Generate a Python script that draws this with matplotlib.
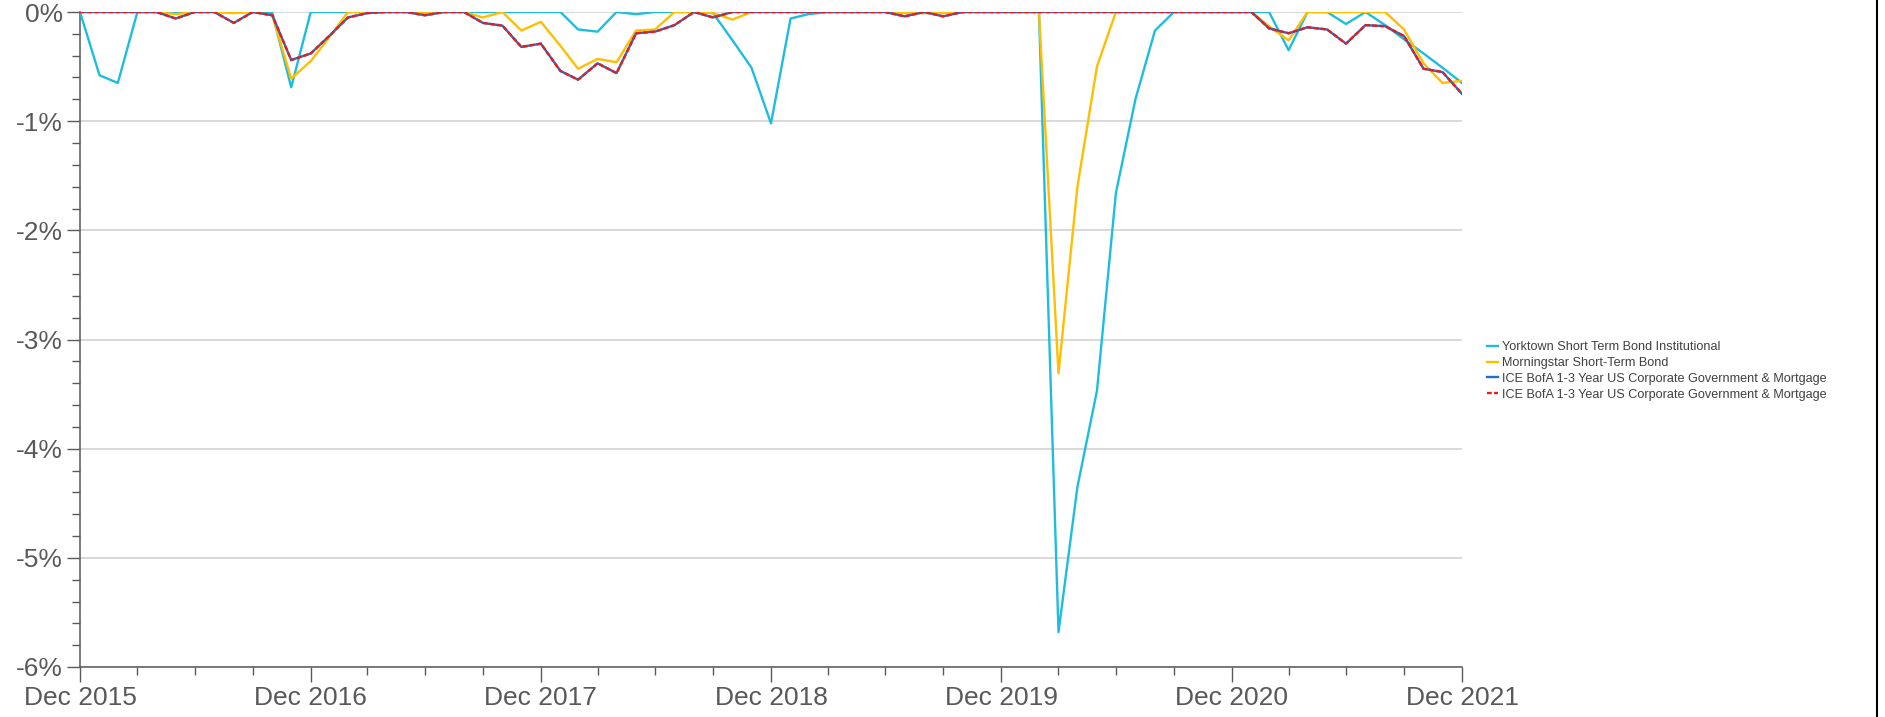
import matplotlib
matplotlib.use("Agg")
import matplotlib.pyplot as plt
import matplotlib.lines as mlines
import pandas as pd
import numpy as np

plt.rcParams['font.family'] = ['Liberation Sans', 'DejaVu Sans']

dates = pd.date_range('2015-12-31', periods=73, freq='ME')

yorktown = [0, -0.58, -0.65, 0, 0, 0, 0, 0, 0, 0, -0.01, -0.69, 0,
            0, 0, 0, 0, 0, 0, 0, 0, 0, 0, 0, 0,
            0, -0.16, -0.18, 0, -0.02, 0, 0, 0, -0.01, -0.26, -0.51, -1.02,
            -0.06, -0.02, 0, 0, 0, 0, 0, 0, 0, 0, 0, 0,
            0, 0, -5.68, -4.35, -3.47, -1.66, -0.80, -0.17, 0, 0, 0, 0,
            0, 0, -0.35, 0, 0, -0.11, 0, -0.12, -0.25, -0.38, -0.51, -0.65]

morningstar = [0, 0, 0, 0, 0, -0.02, 0, 0, -0.01, 0, -0.03, -0.61, -0.45,
               -0.22, 0, 0, 0, 0, -0.01, 0, 0, -0.05, 0, -0.17, -0.09,
               -0.31, -0.52, -0.43, -0.46, -0.17, -0.16, 0, 0, -0.01, -0.07, 0, 0,
               0, 0, 0, 0, 0, 0, -0.01, -0.01, -0.01, 0, 0, 0,
               0, 0, -3.31, -1.60, -0.50, 0, 0, 0, 0, 0, 0, 0,
               0, -0.13, -0.26, 0, 0, 0, 0, 0, -0.16, -0.47, -0.65, -0.63]

ice = [0, 0, 0, 0, 0, -0.06, 0, 0, -0.10, 0, -0.03, -0.44, -0.38,
       -0.21, -0.05, -0.01, 0, 0, -0.03, 0, 0, -0.10, -0.125, -0.32, -0.29,
       -0.54, -0.62, -0.47, -0.56, -0.195, -0.18, -0.12, 0, -0.05, 0, 0, 0,
       0, 0, 0, 0, 0, 0, -0.04, 0, -0.04, 0, 0, 0,
       0, 0, 0, 0, 0, 0, 0, 0, 0, 0, 0, 0,
       0, -0.15, -0.195, -0.14, -0.16, -0.29, -0.12, -0.13, -0.22, -0.52, -0.55, -0.75]

labels = ["Yorktown Short Term Bond Institutional",
          "Morningstar Short-Term Bond",
          "ICE BofA 1-3 Year US Corporate Government & Mortgage",
          "ICE BofA 1-3 Year US Corporate Government & Mortgage"]
yticks = [0, -1, -2, -3, -4, -5, -6]
ytick_labels = ["0%", "-1%", "-2%", "-3%", "-4%", "-5%", "-6%"]

fig = plt.figure(figsize=(18.85, 7.17), dpi=100)
ax = fig.add_axes([80/1885, 1-667/717, (1462-80)/1885, (667-12)/717])

c_york = '#1EBDE0'
c_morn = '#FFBE00'
c_ice = '#1F6FC8'
c_red = '#F01818'

ax.plot(dates, yorktown, color=c_york, lw=1.7, label=labels[0], zorder=3)
ax.plot(dates, morningstar, color=c_morn, lw=1.7, label=labels[1], zorder=3)
ax.plot(dates, ice, color=c_ice, lw=1.7, label=labels[2], zorder=4)
ax.plot(dates, ice, color=c_red, lw=1.7, ls=(0, (2, 1)), label=labels[3], zorder=5)

ax.set_xlim(dates[0], dates[-1])
ax.set_ylim(-6, 0)
ax.set_yticks(yticks)
ax.set_yticklabels(ytick_labels)
ax.set_yticks(np.arange(-6, 0.001, 0.2), minor=True)
ax.set_xticks(dates[::12])
ax.set_xticklabels([d.strftime('Dec %Y') for d in dates[::12]])
ax.set_xticks(dates[::3], minor=True)

ax.grid(axis='y', which='major', color='#D0D0D0', lw=1.1, zorder=0)
for s in ['top', 'right']:
    ax.spines[s].set_visible(False)
for s in ['left', 'bottom']:
    ax.spines[s].set_color('#595959')
    ax.spines[s].set_linewidth(1.1)
ax.tick_params(axis='both', which='both', colors='#595959', width=1.0)
ax.tick_params(axis='y', which='major', length=9.5, pad=3, labelsize=19, labelcolor='#595959')
ax.tick_params(axis='y', which='minor', length=6)
ax.tick_params(axis='x', which='major', length=11, pad=3, labelsize=19, labelcolor='#595959')
ax.tick_params(axis='x', which='minor', length=6)

leg = fig.legend(loc='center left', bbox_to_anchor=(1487/1885, 1-371/717),
                 frameon=False, fontsize=9.1, handlelength=0.9, handletextpad=0.3,
                 labelspacing=0.3, borderpad=0, borderaxespad=0)
for t in leg.get_texts():
    t.set_color('#404040')

fig.add_artist(mlines.Line2D([1877/1885, 1877/1885], [0, 1], color='black', lw=1.5,
                             transform=fig.transFigure))

fig.savefig('out.png', dpi=100, facecolor='white')
